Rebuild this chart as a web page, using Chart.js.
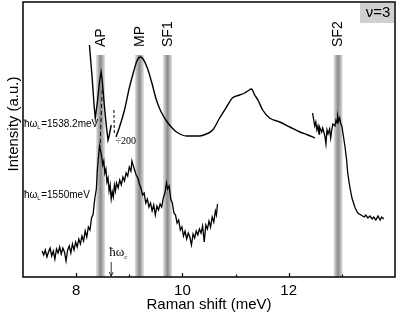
<!DOCTYPE html>
<html><head><meta charset="utf-8">
<script src="https://cdn.jsdelivr.net/npm/chart.js@4/dist/chart.umd.min.js"></script>
<style>html,body{margin:0;padding:0;background:#fff;overflow:hidden}</style>
</head><body>
<canvas id="c" width="399" height="315"></canvas>
<script>
// ---- data (x: Raman shift in meV, y: intensity in arbitrary units) ----
const lowX = [7.36,7.39,7.42,7.45,7.48,7.51,7.54,7.57,7.60,7.63,7.66,7.69,7.72,7.75,7.78,7.81,7.84,7.87,7.90,7.93,7.96,7.99,8.02,8.05,8.08,8.11,8.14,8.17,8.20,8.23,8.26,8.29,8.32,8.35,8.38,8.40,8.42,8.44,8.46,8.48,8.50,8.52,8.54,8.56,8.58,8.60,8.62,8.64,8.66,8.68,8.70,8.72,8.74,8.76,8.79,8.82,8.85,8.88,8.91,8.94,8.97,9.00,9.03,9.05,9.07,9.10,9.13,9.16,9.19,9.22,9.25,9.28,9.31,9.34,9.37,9.40,9.43,9.46,9.49,9.52,9.55,9.58,9.61,9.64,9.67,9.70,9.72,9.75,9.78,9.81,9.84,9.87,9.90,9.93,9.96,9.99,10.02,10.05,10.08,10.11,10.14,10.17,10.20,10.23,10.26,10.29,10.32,10.35,10.38,10.41,10.44,10.47,10.50,10.53,10.56,10.59,10.62,10.64,10.66];
const lowY = [26,22,27,20,25,29,21,26,18,28,24,30,23,29,25,16,27,31,24,33,27,35,30,38,33,41,36,46,40,50,47,59,63,78,88,108,120,131,126,121,112,116,104,108,95,99,86,92,78,85,80,92,86,94,89,97,92,100,96,104,101,110,106,116,112,107,102,99,93,89,82,84,74,78,70,74,66,72,62,71,67,73,70,79,84,94,88,91,78,74,64,62,54,57,47,50,41,46,38,44,40,32,43,39,46,42,48,44,51,35,52,48,56,50,60,55,66,62,73];

const upLaserX = [8.25,8.30,8.34,8.36,8.40,8.44,8.47,8.49,8.53,8.57,8.60,8.62,8.66];
const upLaserY = [232,200,170,159,175,196,205,197,172,150,137,141,152];

const upMainX = [8.75,8.81,8.91,9.00,9.08,9.15,9.21,9.26,9.34,9.42,9.51,9.60,9.70,9.79,9.89,10.08,10.32,10.45,10.57,10.70,10.83,10.94,11.08,11.17,11.23,11.30,11.36,11.42,11.51,11.64,11.83,12.02,12.21,12.36,12.49];
const upMainY = [140,149,167,189,205,217,220,218,209,195,177,165,156,150,145,141,141,143,147,159,170,179,182,184,186,188,182,177,167,159,155,150,145,142,139];

const upSF2X = [12.45,12.47,12.49,12.51,12.53,12.55,12.57,12.58,12.62,12.64,12.68,12.70,12.72,12.74,12.77,12.79,12.81,12.83,12.87,12.89,12.91,12.92,12.94,12.96,12.98,13.00,13.02,13.06,13.09,13.11,13.15,13.19,13.25,13.30,13.36,13.42,13.45,13.49,13.53,13.57,13.60,13.64,13.68,13.72,13.75,13.79];
const upSF2Y = [164,157,151,155,147,151,143,150,145,149,141,133,147,143,148,139,147,153,151,157,154,161,156,159,153,151,144,130,117,104,90,79,69,64,62,60,62,59,61,58,60,57,61,57,60,58];

const divMarkX = [8.71,8.72];
const divMarkY = [167,142];
const linkX = [8.49,8.45];
const linkY = [187,130];

const bandCenters = [8.46, 9.19, 9.72, 12.93];
const bandLabels = ['AP','MP','SF1','SF2'];
const majorTicks = [8,10,12];
const majorTickLabels = ['8','10','12'];
const minorTicks = [9,11,13];
const xTitle = 'Raman shift (meV)';
const yTitle = 'Intensity (a.u.)';
const cyclotronShift = 8.66;

const pts = (xs, ys) => xs.map((x,i)=>({x, y: ys[i]}));

const SANS = "'Liberation Sans', Arial, sans-serif";
const SERIF = "'Liberation Serif', 'Times New Roman', serif";

const deco = {
  id: 'deco',
  beforeDatasetsDraw(chart) {
    const {ctx, chartArea: a, scales: {x, y}} = chart;
    ctx.save();
    const bandTop = y.getPixelForValue(222);
    bandCenters.forEach(c => {
      const l = x.getPixelForValue(c - 0.085), r = x.getPixelForValue(c + 0.085);
      const g = ctx.createLinearGradient(l, 0, r, 0);
      g.addColorStop(0, '#e4e4e4');
      g.addColorStop(0.25, '#b4b4b4');
      g.addColorStop(0.5, '#8a8a8a');
      g.addColorStop(0.75, '#b4b4b4');
      g.addColorStop(1, '#e4e4e4');
      ctx.fillStyle = g;
      ctx.fillRect(l, bandTop, r - l, a.bottom - bandTop);
    });
    ctx.restore();
  },
  afterDatasetsDraw(chart) {
    const {ctx, chartArea: a, scales: {x, y}} = chart;
    ctx.save();
    // frame
    ctx.strokeStyle = '#000'; ctx.lineWidth = 1.5;
    ctx.strokeRect(a.left, a.top, a.right - a.left, a.bottom - a.top);
    // inward ticks
    ctx.lineWidth = 1.2;
    majorTicks.forEach(v => { const px = Math.round(x.getPixelForValue(v)) + 0.5; ctx.beginPath(); ctx.moveTo(px, a.bottom); ctx.lineTo(px, a.bottom - 4); ctx.stroke(); });
    minorTicks.forEach(v => { const px = Math.round(x.getPixelForValue(v)) + 0.5; ctx.beginPath(); ctx.moveTo(px, a.bottom); ctx.lineTo(px, a.bottom - 2.5); ctx.stroke(); });
    // band labels
    ctx.fillStyle = '#000';
    ctx.font = '14px ' + SANS;
    const labBottom = y.getPixelForValue(230);
    bandCenters.forEach((c, i) => {
      ctx.save();
      ctx.translate(x.getPixelForValue(c) + 0.5, labBottom);
      ctx.rotate(-Math.PI / 2);
      ctx.textAlign = 'left'; ctx.textBaseline = 'middle';
      ctx.fillText(bandLabels[i], 0, 0);
      ctx.restore();
    });
    // excitation labels
    const excLabel = (val, yv) => {
      let px = x.getPixelForValue(7.0) + 1, py = y.getPixelForValue(yv);
      ctx.textAlign = 'left'; ctx.textBaseline = 'middle';
      ctx.font = '10px ' + SANS;
      ctx.fillText('ħω', px, py); px += ctx.measureText('ħω').width;
      ctx.font = '6px ' + SANS;
      ctx.fillText('L', px, py + 3); px += ctx.measureText('L').width + 0.5;
      ctx.font = '10px ' + SANS;
      ctx.fillText('=' + val, px, py);
    };
    excLabel('1538.2meV', 153);
    excLabel('1550meV', 82);
    // ÷200
    ctx.font = '10px ' + SERIF;
    ctx.textAlign = 'left'; ctx.textBaseline = 'middle';
    ctx.fillText('÷200', x.getPixelForValue(8.74), y.getPixelForValue(136));
    // cyclotron marker
    const cx = x.getPixelForValue(cyclotronShift);
    ctx.font = '13px ' + SERIF;
    ctx.fillText('ħω', cx - 2, y.getPixelForValue(24));
    const w = ctx.measureText('ħω').width;
    ctx.font = '7px ' + SERIF;
    ctx.fillText('c', cx - 2 + w, y.getPixelForValue(20));
    ctx.lineWidth = 0.8;
    ctx.beginPath(); ctx.moveTo(cx, y.getPixelForValue(15)); ctx.lineTo(cx, a.bottom - 1); ctx.stroke();
    ctx.beginPath(); ctx.moveTo(cx - 2, a.bottom - 5); ctx.lineTo(cx, a.bottom - 1); ctx.lineTo(cx + 2, a.bottom - 5); ctx.stroke();
    // nu=3 box
    ctx.fillStyle = '#d0d0d0';
    ctx.fillRect(a.right - 35, a.top + 1, 34, 20);
    ctx.fillStyle = '#000';
    ctx.font = '15px ' + SANS;
    ctx.textAlign = 'center';
    ctx.fillText('ν=3', a.right - 17, a.top + 11);
    // y title
    ctx.save();
    ctx.translate(18, 124);
    ctx.rotate(-Math.PI / 2);
    ctx.textAlign = 'center'; ctx.textBaseline = 'alphabetic';
    ctx.font = '15px ' + SANS;
    ctx.fillText(yTitle, 0, 0);
    ctx.restore();
    ctx.restore();
  }
};

const lineDs = (data, extra) => Object.assign({
  data, borderColor: '#000', borderWidth: 1.2, pointRadius: 0, fill: false, tension: 0
}, extra || {});

new Chart(document.getElementById('c'), {
  type: 'line',
  data: {
    datasets: [
      lineDs(pts(lowX, lowY), {borderWidth: 1.3}),
      lineDs(pts(upLaserX, upLaserY), {borderWidth: 1.4}),
      lineDs(pts(upMainX, upMainY), {borderWidth: 1.4, cubicInterpolationMode: 'monotone'}),
      lineDs(pts(upSF2X, upSF2Y), {borderWidth: 1.3}),
      lineDs(pts(divMarkX, divMarkY), {borderWidth: 1, borderDash: [3, 2]}),
      lineDs(pts(linkX, linkY), {borderWidth: 1, borderDash: [4, 3]})
    ]
  },
  options: {
    responsive: false, devicePixelRatio: 1, animation: false,
    layout: {padding: {top: 2, right: 4, left: 0, bottom: 0}},
    plugins: {legend: {display: false}, tooltip: {enabled: false}},
    scales: {
      x: {
        type: 'linear', min: 7, max: 14,
        afterBuildTicks: s => { s.ticks = majorTicks.map(v => ({value: v})); },
        afterFit: s => { s.height = 38; },
        grid: {display: false, drawTicks: false},
        border: {display: false},
        ticks: {
          color: '#000', padding: 5, maxRotation: 0, autoSkip: false,
          font: {family: SANS, size: 15},
          callback: v => { const i = majorTicks.indexOf(v); return i >= 0 ? majorTickLabels[i] : ''; }
        },
        title: {display: true, text: xTitle, color: '#000', font: {family: SANS, size: 15}, padding: {top: 0, bottom: 1}}
      },
      y: {
        type: 'linear', min: 0, max: 275,
        afterFit: s => { s.width = 23; },
        grid: {display: false, drawTicks: false},
        border: {display: false},
        ticks: {display: false}
      }
    }
  },
  plugins: [deco]
});
</script>
</body></html>
